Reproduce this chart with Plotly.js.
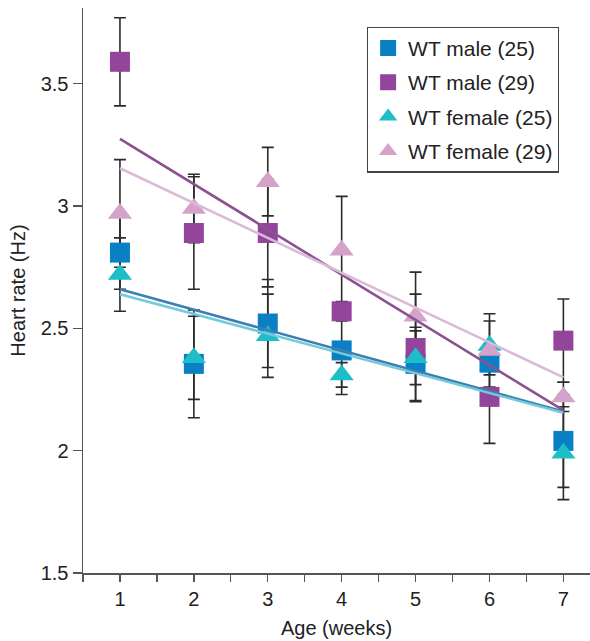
<!DOCTYPE html>
<html>
<head>
<meta charset="utf-8">
<script src="https://cdn.plot.ly/plotly-3.0.1.min.js"></script>
<style>html,body{margin:0;padding:0;background:#fff;}#chart{width:590px;height:641px;}</style>
</head>
<body>
<div id="chart"></div>
<script>
// ---- Data ----
var weeks = [1, 2, 3, 4, 5, 6, 7];
var seriesNames = ["WT male (25)", "WT male (29)", "WT female (25)", "WT female (29)"];

var maleT25 = [2.81, 2.355, 2.52, 2.41, 2.355, 2.36, 2.04];
var maleT25Err = [0.15, 0.22, 0.18, 0.18, 0.15, 0.05, 0.19];

var maleT29 = [3.59, 2.89, 2.89, 2.57, 2.42, 2.22, 2.45];
var maleT29Err = [0.18, 0.23, 0.22, 0.04, 0.22, 0.19, 0.17];

var femaleT25 = [2.72, 2.38, 2.47, 2.31, 2.38, 2.43, 1.99];
var femaleT25Err = [0.15, 0.17, 0.17, 0.05, 0.11, 0.10, 0.19];

var femaleT29 = [2.97, 2.99, 3.10, 2.82, 2.55, 2.41, 2.22];
var femaleT29Err = [0.22, 0.14, 0.14, 0.22, 0.18, 0.15, 0.06];

// Fitted trend lines (end values read at week 1 and week 7)
var fitWeeks = [1, 7];
var fitMaleT25 = [2.66, 2.16];
var fitMaleT29 = [3.275, 2.165];
var fitFemaleT25 = [2.64, 2.155];
var fitFemaleT29 = [3.155, 2.30];

var yTicks = [1.5, 2, 2.5, 3, 3.5];
var yTickText = ["1.5", "2", "2.5", "3", "3.5"];
var xTicks = [1, 2, 3, 4, 5, 6, 7];
var xTickText = ["1", "2", "3", "4", "5", "6", "7"];

// ---- Styling ----
var markerColors = ["#0a80c4", "#93459b", "#1dbec8", "#d5a3ca"];
var lineColors = ["#3b7fb4", "#8c5191", "#74cad8", "#dbbad7"];
var symbols = ["square", "square", "triangle-up", "triangle-up"];
var sizes = [20, 20, 21, 21];
var values = [maleT25, maleT29, femaleT25, femaleT29];
var errs = [maleT25Err, maleT29Err, femaleT25Err, femaleT29Err];
var fits = [fitMaleT25, fitMaleT29, fitFemaleT25, fitFemaleT29];

var traces = [];
// error bars first (behind everything)
for (var i = 0; i < 4; i++) {
  traces.push({
    x: weeks, y: values[i], type: "scatter", mode: "markers",
    marker: {color: "rgba(0,0,0,0)", size: 1},
    error_y: {type: "data", array: errs[i], visible: true, color: "#2b2b2b", thickness: 1.6, width: 6},
    showlegend: false, hoverinfo: "skip"
  });
}
// markers
for (var j = 0; j < 4; j++) {
  traces.push({
    x: weeks, y: values[j], type: "scatter", mode: "markers", name: seriesNames[j],
    legendgroup: "g" + j,
    marker: {color: markerColors[j], symbol: symbols[j], size: sizes[j], line: {width: 0}}
  });
}
// trend lines on top
for (var k = 0; k < 4; k++) {
  traces.push({
    x: fitWeeks, y: fits[k], type: "scatter", mode: "lines",
    line: {color: lineColors[k], width: 2.6},
    showlegend: false, hoverinfo: "skip"
  });
}

var font = "Liberation Sans, Arial, Helvetica, sans-serif";
var fs = 20;
var layout = {
  width: 590, height: 641,
  margin: {l: 83, r: 0, t: 8, b: 68, pad: 0},
  paper_bgcolor: "#fff", plot_bgcolor: "#fff",
  font: {family: font, size: fs, color: "#222"},
  showlegend: true,
  legend: {
    x: 0.56, y: 0.967, xanchor: "left", yanchor: "top",
    bordercolor: "#444", borderwidth: 1.2, bgcolor: "#fff",
    font: {family: font, size: 21, color: "#222"},
    tracegroupgap: 4, traceorder: "grouped"
  },
  xaxis: {
    range: [0.5, 7.36], showgrid: false, zeroline: false,
    showline: true, linecolor: "#555", linewidth: 1.5,
    ticks: "outside", ticklen: 7, tickwidth: 1.3, tickcolor: "#555",
    tickvals: xTicks, ticktext: xTickText,
    tickfont: {family: font, size: fs, color: "#222"},
    minor: {tickvals: [0.5, 1.5, 2.5, 3.5, 4.5, 5.5, 6.5], ticks: "outside", ticklen: 7, tickwidth: 1.3, tickcolor: "#555"},
    title: {text: "Age (weeks)", font: {family: font, size: fs, color: "#222"}, standoff: 12}
  },
  yaxis: {
    range: [1.5, 3.81], showgrid: false, zeroline: false,
    showline: true, linecolor: "#555", linewidth: 1.5,
    ticks: "outside", ticklen: 9, tickwidth: 1.3, tickcolor: "#555",
    tickvals: yTicks, ticktext: yTickText,
    tickfont: {family: font, size: fs, color: "#222"},
    title: {text: "Heart rate (Hz)", font: {family: font, size: fs, color: "#222"}, standoff: 9}
  }
};

Plotly.newPlot("chart", traces, layout, {displayModeBar: false, staticPlot: true});
</script>
</body>
</html>
